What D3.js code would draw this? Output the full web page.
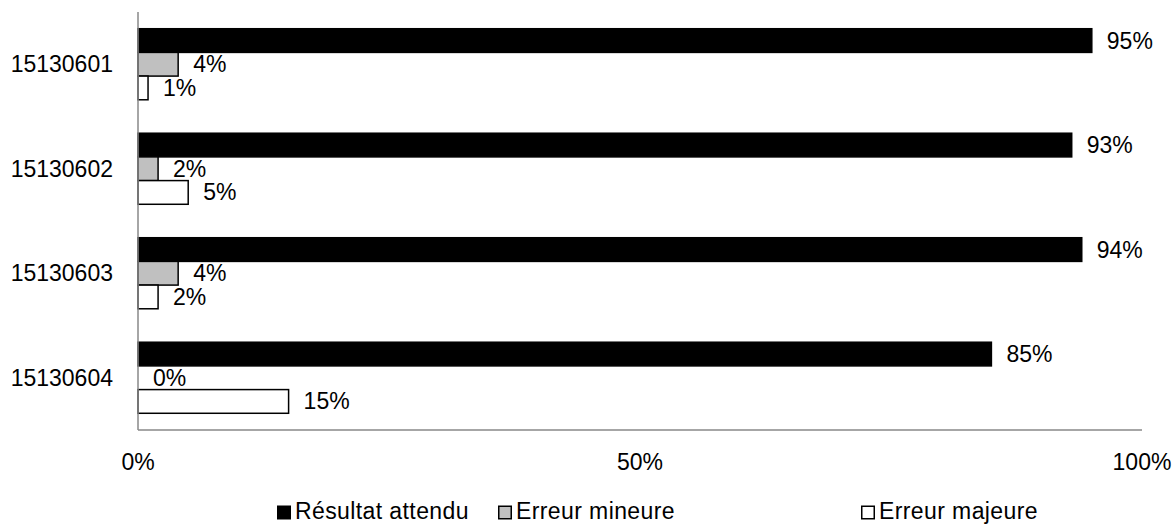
<!DOCTYPE html>
<html>
<head>
<meta charset="utf-8">
<script src="https://cdn.jsdelivr.net/npm/d3@7"></script>
<style>
  html, body { margin: 0; padding: 0; background: #fff; }
  svg { display: block; font-family: "Liberation Sans", Arial, Helvetica, sans-serif; }
</style>
</head>
<body>
<svg id="chart" width="1175" height="525"></svg>
<script>
// Share of results per batch, in percent
const categories = ["15130601", "15130602", "15130603", "15130604"];
const seriesNames = ["Résultat attendu", "Erreur mineure", "Erreur majeure"];
const attendu = [95, 93, 94, 85];
const mineure = [4, 2, 4, 0];
const majeure = [1, 5, 2, 15];
const tickValues = [0, 50, 100];
const tickLabels = ["0%", "50%", "100%"];

const seriesFill = ["#000000", "#c0c0c0", "#ffffff"];
const seriesValues = [attendu, mineure, majeure];

const svg = d3.select("#chart");
const plotLeft = 138, plotRight = 1142, plotTop = 12, plotBottom = 430;
const fontSize = 23;

const x = d3.scaleLinear().domain([0, 100]).range([plotLeft, plotRight]);
const y0 = d3.scaleBand().domain(categories).range([plotTop, plotBottom])
  .paddingInner(0.32).paddingOuter(0.16);
const y1 = d3.scaleBand().domain(seriesNames).range([0, y0.bandwidth()]);

const rows = categories.map((c, i) => ({
  cat: c,
  items: seriesNames.map((s, j) => ({ series: s, value: seriesValues[j][i], fill: seriesFill[j] }))
}));

// Bars
const groups = svg.selectAll("g.cat").data(rows).join("g")
  .attr("class", "cat")
  .attr("transform", d => `translate(0,${y0(d.cat)})`);

groups.selectAll("rect").data(d => d.items).join("rect")
  .attr("x", x(0))
  .attr("y", d => y1(d.series))
  .attr("width", d => x(d.value) - x(0))
  .attr("height", y1.bandwidth())
  .attr("fill", d => d.fill)
  .attr("stroke", "#000")
  .attr("stroke-width", d => d.value === 0 ? 0 : 1.5);

// Value labels
groups.selectAll("text").data(d => d.items).join("text")
  .attr("x", d => x(d.value) + 15)
  .attr("y", d => y1(d.series) + y1.bandwidth() / 2)
  .attr("dominant-baseline", "central")
  .attr("font-size", fontSize)
  .attr("fill", "#000")
  .text(d => d.value + "%");

// Axis lines
svg.append("line")
  .attr("x1", x(0)).attr("x2", x(0))
  .attr("y1", plotTop).attr("y2", plotBottom)
  .attr("stroke", "#888").attr("stroke-width", 1.5);
svg.append("line")
  .attr("x1", x(0)).attr("x2", x(100))
  .attr("y1", plotBottom).attr("y2", plotBottom)
  .attr("stroke", "#888").attr("stroke-width", 1.5);

// Category labels
svg.selectAll("text.catlabel").data(categories).join("text")
  .attr("class", "catlabel")
  .attr("x", 113)
  .attr("y", d => y0(d) + y0.bandwidth() / 2)
  .attr("text-anchor", "end")
  .attr("dominant-baseline", "central")
  .attr("font-size", fontSize)
  .text(d => d);

// X tick labels
svg.selectAll("text.tick").data(tickValues).join("text")
  .attr("class", "tick")
  .attr("x", d => x(d))
  .attr("y", 470)
  .attr("text-anchor", "middle")
  .attr("font-size", fontSize)
  .text((d, i) => tickLabels[i]);

// Legend
const legendX = [277, 498, 861];
const legend = svg.selectAll("g.legend").data(seriesNames).join("g")
  .attr("class", "legend")
  .attr("transform", (d, i) => `translate(${legendX[i]},0)`);
legend.append("rect")
  .attr("x", 0.75).attr("y", 506.25)
  .attr("width", 12.5).attr("height", 12.5)
  .attr("fill", (d, i) => seriesFill[i])
  .attr("stroke", "#000").attr("stroke-width", 1.5);
legend.append("text")
  .attr("x", 18)
  .attr("y", 519)
  .attr("font-size", fontSize)
  .attr("letter-spacing", 0.4)
  .text(d => d);
</script>
</body>
</html>
